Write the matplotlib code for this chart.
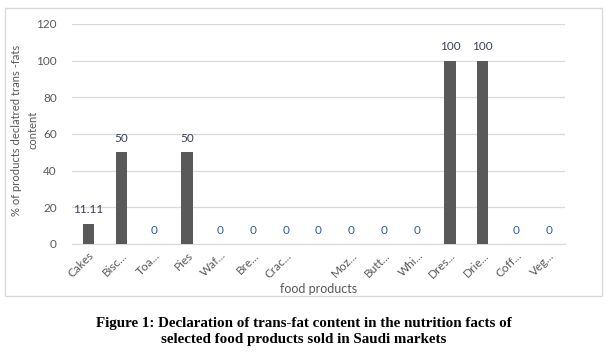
import matplotlib.pyplot as plt
from matplotlib.patches import Rectangle
import numpy as np

categories = ['Cakes', 'Bisc...', 'Toa...', 'Pies', 'Waf...', 'Bre...', 'Crac...', '',
              'Moz...', 'Butt...', 'Whi...', 'Dres...', 'Drie...', 'Coff...', 'Veg...']
values = [11.11, 50, 0, 50, 0, 0, 0, 0, 0, 0, 0, 100, 100, 0, 0]
value_text = ['11.11', '50', '0', '50', '0', '0', '0', '0', '0', '0', '0', '100', '100', '0', '0']
yticks = [0, 20, 40, 60, 80, 100, 120]
ytitle = ['% of products declatred trans -fats', 'content']

plt.rcParams['font.family'] = ['Lato', 'DejaVu Sans']
grey = '#595959'

fig = plt.figure(figsize=(6.08, 3.55), dpi=100)
ax = fig.add_axes([72/608, 1 - 244/355, (565 - 72)/608, (244 - 24)/355])

# chart area frame
fig.patches.append(Rectangle((5/608, 1 - 296/355), 597/608, 288/355,
                             transform=fig.transFigure, fill=False,
                             edgecolor='#d9d9d9', linewidth=1))

x = np.arange(len(categories))
bars = ax.bar(x, values, width=0.34, color=grey, zorder=3)

for rect, txt, v in zip(bars, value_text, values):
    col = '#2e5c9a' if v == 0 else '#3b4256'
    ax.annotate(txt, xy=(rect.get_x() + rect.get_width() / 2, rect.get_height()),
                xytext=(0, 6), textcoords='offset points',
                ha='center', va='bottom', fontsize=8.5, color=col)

ax.set_xlim(-0.5, len(categories) - 0.5)
ax.set_ylim(0, 120)
ax.set_yticks(yticks)
ax.yaxis.grid(True, color='#d9d9d9', linewidth=0.9, zorder=0)
for s in ['top', 'right', 'left']:
    ax.spines[s].set_visible(False)
ax.spines['bottom'].set_color('#d9d9d9')
ax.tick_params(axis='both', length=0, labelsize=8.5, labelcolor=grey)
ax.tick_params(axis='y', pad=11)
ax.tick_params(axis='x', pad=4)
ax.set_xticks(x)
ax.set_xticklabels(categories, rotation=45, ha='right', rotation_mode='anchor')

ax.set_xlabel('food products', fontsize=9, color=grey, labelpad=2)
# y title: one text per line so each line is centred
for line, xpix in zip(ytitle, [17, 33]):
    fig.text(xpix/608, 1 - 130/355, line, rotation=90, fontsize=8.1,
             color=grey, ha='center', va='center')

fig.text(0.5, 1 - 332/355, 'Figure 1: Declaration of trans-fat content in the nutrition facts of\n'
         'selected food products sold in Saudi markets',
         ha='center', va='center', fontsize=10.8, fontweight='bold',
         family='Liberation Serif', linespacing=1.3)

fig.savefig('out.png', dpi=100)
